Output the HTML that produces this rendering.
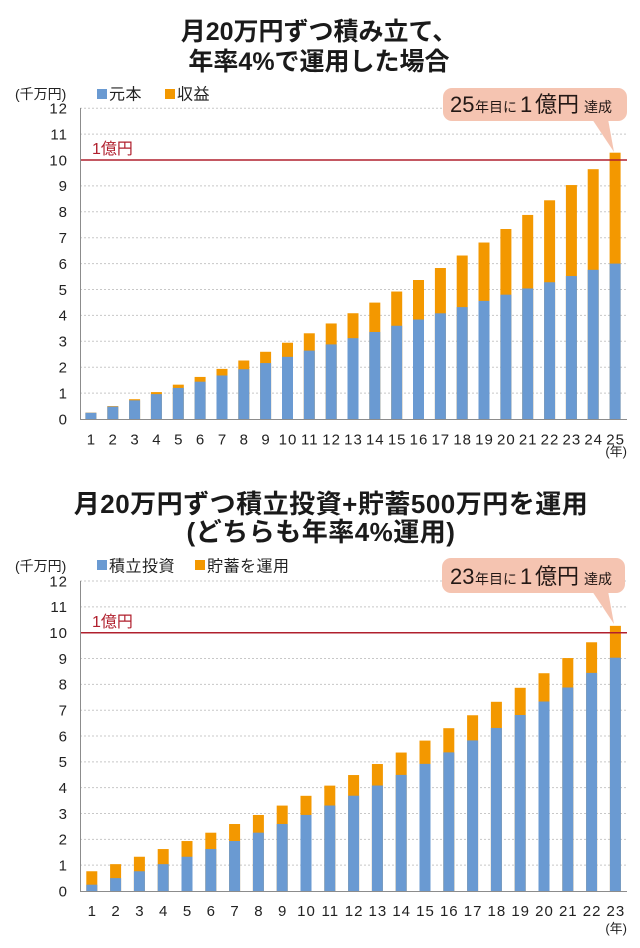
<!DOCTYPE html>
<html><head><meta charset="utf-8">
<style>
html,body{margin:0;padding:0;background:#fff;}
svg{display:block;}
text{font-family:"Liberation Sans","Noto Sans CJK JP",sans-serif;fill:#222;}
.t{font-weight:700;font-size:25px;fill:#1a1a1a;}
.t2{font-weight:700;font-size:26px;fill:#1a1a1a;letter-spacing:0.5px;}
.yl{font-size:15px;letter-spacing:1px;}
.xl{font-size:15px;letter-spacing:1px;}
.lg{font-size:16px;letter-spacing:0.5px;}
.un{font-size:14px;}
.red{font-size:16px;fill:#b0202e;}
.big{font-size:22px;fill:#231815;}
.sm{font-size:14px;fill:#231815;}
.grid{stroke:#c8c8c8;stroke-width:1;stroke-dasharray:2,2;}
.ax{stroke:#8c8c8c;stroke-width:1;}
.o{fill:#f39800;}
.b{fill:#6a9ad2;}
</style></head>
<body>
<svg width="640" height="948" viewBox="0 0 640 948" xmlns="http://www.w3.org/2000/svg">
<!-- ================= TOP CHART ================= -->
<text class="t" x="319" y="40" text-anchor="middle">月20万円ずつ積み立て、</text>
<text class="t" x="319" y="70" text-anchor="middle">年率4%で運用した場合</text>

<text class="un" x="15" y="99">(千万円)</text>
<rect x="97" y="89" width="10" height="10" class="b"/>
<text class="lg" x="109" y="99.5">元本</text>
<rect x="165" y="89" width="10" height="10" class="o"/>
<text class="lg" x="177" y="99.5">収益</text>

<g class="grid">
<line x1="80" x2="627" y1="393.1" y2="393.1"/>
<line x1="80" x2="627" y1="367.2" y2="367.2"/>
<line x1="80" x2="627" y1="341.3" y2="341.3"/>
<line x1="80" x2="627" y1="315.4" y2="315.4"/>
<line x1="80" x2="627" y1="289.5" y2="289.5"/>
<line x1="80" x2="627" y1="263.6" y2="263.6"/>
<line x1="80" x2="627" y1="237.7" y2="237.7"/>
<line x1="80" x2="627" y1="211.8" y2="211.8"/>
<line x1="80" x2="627" y1="185.9" y2="185.9"/>
<line x1="80" x2="627" y1="134.1" y2="134.1"/>
<line x1="80" x2="627" y1="108.2" y2="108.2"/>
</g>
<g class="yl" text-anchor="end">
<text x="68" y="424.3">0</text>
<text x="68" y="398.4">1</text>
<text x="68" y="372.5">2</text>
<text x="68" y="346.6">3</text>
<text x="68" y="320.7">4</text>
<text x="68" y="294.8">5</text>
<text x="68" y="268.9">6</text>
<text x="68" y="243.0">7</text>
<text x="68" y="217.1">8</text>
<text x="68" y="191.2">9</text>
<text x="68" y="165.3">10</text>
<text x="68" y="139.4">11</text>
<text x="68" y="113.5">12</text>
</g>
<g>
<rect class="o" x="85.4" y="412.67" width="11" height="6.33"/><rect class="b" x="85.4" y="412.78" width="11" height="6.22"/>
<rect class="o" x="107.3" y="406.08" width="11" height="12.92"/><rect class="b" x="107.3" y="406.57" width="11" height="12.43"/>
<rect class="o" x="129.1" y="399.22" width="11" height="19.78"/><rect class="b" x="129.1" y="400.35" width="11" height="18.65"/>
<rect class="o" x="150.9" y="392.09" width="11" height="26.91"/><rect class="b" x="150.9" y="394.14" width="11" height="24.86"/>
<rect class="o" x="172.8" y="384.66" width="11" height="34.34"/><rect class="b" x="172.8" y="387.92" width="11" height="31.08"/>
<rect class="o" x="194.6" y="376.93" width="11" height="42.07"/><rect class="b" x="194.6" y="381.70" width="11" height="37.30"/>
<rect class="o" x="216.5" y="368.88" width="11" height="50.12"/><rect class="b" x="216.5" y="375.49" width="11" height="43.51"/>
<rect class="o" x="238.3" y="360.51" width="11" height="58.49"/><rect class="b" x="238.3" y="369.27" width="11" height="49.73"/>
<rect class="o" x="260.1" y="351.79" width="11" height="67.21"/><rect class="b" x="260.1" y="363.06" width="11" height="55.94"/>
<rect class="o" x="282.0" y="342.72" width="11" height="76.28"/><rect class="b" x="282.0" y="356.84" width="11" height="62.16"/>
<rect class="o" x="303.8" y="333.29" width="11" height="85.71"/><rect class="b" x="303.8" y="350.62" width="11" height="68.38"/>
<rect class="o" x="325.7" y="323.46" width="11" height="95.54"/><rect class="b" x="325.7" y="344.41" width="11" height="74.59"/>
<rect class="o" x="347.5" y="313.24" width="11" height="105.76"/><rect class="b" x="347.5" y="338.19" width="11" height="80.81"/>
<rect class="o" x="369.3" y="302.60" width="11" height="116.40"/><rect class="b" x="369.3" y="331.98" width="11" height="87.02"/>
<rect class="o" x="391.2" y="291.53" width="11" height="127.47"/><rect class="b" x="391.2" y="325.76" width="11" height="93.24"/>
<rect class="o" x="413.0" y="280.00" width="11" height="139.00"/><rect class="b" x="413.0" y="319.54" width="11" height="99.46"/>
<rect class="o" x="434.9" y="268.01" width="11" height="150.99"/><rect class="b" x="434.9" y="313.33" width="11" height="105.67"/>
<rect class="o" x="456.7" y="255.52" width="11" height="163.48"/><rect class="b" x="456.7" y="307.11" width="11" height="111.89"/>
<rect class="o" x="478.5" y="242.53" width="11" height="176.47"/><rect class="b" x="478.5" y="300.90" width="11" height="118.10"/>
<rect class="o" x="500.4" y="229.01" width="11" height="189.99"/><rect class="b" x="500.4" y="294.68" width="11" height="124.32"/>
<rect class="o" x="522.2" y="214.94" width="11" height="204.06"/><rect class="b" x="522.2" y="288.46" width="11" height="130.54"/>
<rect class="o" x="544.1" y="200.29" width="11" height="218.71"/><rect class="b" x="544.1" y="282.25" width="11" height="136.75"/>
<rect class="o" x="565.9" y="185.05" width="11" height="233.95"/><rect class="b" x="565.9" y="276.03" width="11" height="142.97"/>
<rect class="o" x="587.7" y="169.19" width="11" height="249.81"/><rect class="b" x="587.7" y="269.82" width="11" height="149.18"/>
<rect class="o" x="609.6" y="152.68" width="11" height="266.32"/><rect class="b" x="609.6" y="263.60" width="11" height="155.40"/>
</g>
<line x1="80" x2="627" y1="160" y2="160" stroke="#b0202e" stroke-width="1.5"/>
<text class="red" x="92" y="154">1億円</text>
<line class="ax" x1="80.5" x2="80.5" y1="108" y2="419"/>
<line class="ax" x1="80" x2="627" y1="419.5" y2="419.5"/>
<g class="xl" text-anchor="middle">
<text x="91.4" y="444.5">1</text><text x="113.2" y="444.5">2</text><text x="135.1" y="444.5">3</text>
<text x="156.9" y="444.5">4</text><text x="178.8" y="444.5">5</text><text x="200.6" y="444.5">6</text>
<text x="222.5" y="444.5">7</text><text x="244.3" y="444.5">8</text><text x="266.1" y="444.5">9</text>
<text x="288.0" y="444.5">10</text><text x="309.8" y="444.5">11</text><text x="331.6" y="444.5">12</text>
<text x="353.5" y="444.5">13</text><text x="375.3" y="444.5">14</text><text x="397.2" y="444.5">15</text>
<text x="419.0" y="444.5">16</text><text x="440.8" y="444.5">17</text><text x="462.7" y="444.5">18</text>
<text x="484.5" y="444.5">19</text><text x="506.4" y="444.5">20</text><text x="528.2" y="444.5">21</text>
<text x="550.0" y="444.5">22</text><text x="571.9" y="444.5">23</text><text x="593.7" y="444.5">24</text>
<text x="615.6" y="444.5">25</text>
</g>
<text class="un" x="627" y="456" text-anchor="end" style="font-size:13px">(年)</text>
<rect x="443" y="88" width="184" height="33" rx="9" ry="9" fill="#f5c4b1"/>
<polygon points="592,119 608,119 614,152" fill="#f5c4b1"/>
<text y="112"><tspan class="big" x="450">25</tspan><tspan class="sm" x="475">年目に</tspan><tspan class="big" x="520">1</tspan><tspan class="big" x="535">億円</tspan><tspan class="sm" x="584">達成</tspan></text>

<!-- ================= BOTTOM CHART ================= -->
<text class="t2" x="331" y="513" text-anchor="middle">月20万円ずつ積立投資+貯蓄500万円を運用</text>
<text class="t2" x="321" y="541" text-anchor="middle">(どちらも年率4%運用)</text>

<text class="un" x="15" y="571">(千万円)</text>
<rect x="97" y="560" width="10" height="10" class="b"/>
<text class="lg" x="109" y="571.5">積立投資</text>
<rect x="195" y="560" width="10" height="10" class="o"/>
<text class="lg" x="207" y="571.5">貯蓄を運用</text>

<g class="grid">
<line x1="80" x2="627" y1="865.17" y2="865.17"/>
<line x1="80" x2="627" y1="839.34" y2="839.34"/>
<line x1="80" x2="627" y1="813.51" y2="813.51"/>
<line x1="80" x2="627" y1="787.68" y2="787.68"/>
<line x1="80" x2="627" y1="761.85" y2="761.85"/>
<line x1="80" x2="627" y1="736.02" y2="736.02"/>
<line x1="80" x2="627" y1="710.19" y2="710.19"/>
<line x1="80" x2="627" y1="684.36" y2="684.36"/>
<line x1="80" x2="627" y1="658.53" y2="658.53"/>
<line x1="80" x2="627" y1="606.87" y2="606.87"/>
<line x1="80" x2="627" y1="581.04" y2="581.04"/>
</g>
<g class="yl" text-anchor="end">
<text x="68" y="896.3">0</text>
<text x="68" y="870.5">1</text>
<text x="68" y="844.6">2</text>
<text x="68" y="818.8">3</text>
<text x="68" y="793.0">4</text>
<text x="68" y="767.2">5</text>
<text x="68" y="741.3">6</text>
<text x="68" y="715.5">7</text>
<text x="68" y="689.7">8</text>
<text x="68" y="663.8">9</text>
<text x="68" y="638.0">10</text>
<text x="68" y="612.2">11</text>
<text x="68" y="586.3">12</text>
</g>
<g>
<rect class="o" x="86.3" y="871.25" width="11" height="19.75"/><rect class="b" x="86.3" y="884.69" width="11" height="6.31"/>
<rect class="o" x="110.1" y="864.15" width="11" height="26.85"/><rect class="b" x="110.1" y="878.11" width="11" height="12.89"/>
<rect class="o" x="133.9" y="856.75" width="11" height="34.25"/><rect class="b" x="133.9" y="871.27" width="11" height="19.73"/>
<rect class="o" x="157.7" y="849.05" width="11" height="41.95"/><rect class="b" x="157.7" y="864.16" width="11" height="26.84"/>
<rect class="o" x="181.5" y="841.04" width="11" height="49.96"/><rect class="b" x="181.5" y="856.75" width="11" height="34.25"/>
<rect class="o" x="205.3" y="832.70" width="11" height="58.30"/><rect class="b" x="205.3" y="849.04" width="11" height="41.96"/>
<rect class="o" x="229.1" y="824.02" width="11" height="66.98"/><rect class="b" x="229.1" y="841.02" width="11" height="49.98"/>
<rect class="o" x="252.9" y="814.99" width="11" height="76.01"/><rect class="b" x="252.9" y="832.67" width="11" height="58.33"/>
<rect class="o" x="276.7" y="805.59" width="11" height="85.41"/><rect class="b" x="276.7" y="823.98" width="11" height="67.02"/>
<rect class="o" x="300.5" y="795.81" width="11" height="95.19"/><rect class="b" x="300.5" y="814.93" width="11" height="76.07"/>
<rect class="o" x="324.3" y="785.63" width="11" height="105.37"/><rect class="b" x="324.3" y="805.52" width="11" height="85.48"/>
<rect class="o" x="348.1" y="775.04" width="11" height="115.96"/><rect class="b" x="348.1" y="795.72" width="11" height="95.28"/>
<rect class="o" x="371.9" y="764.02" width="11" height="126.98"/><rect class="b" x="371.9" y="785.52" width="11" height="105.48"/>
<rect class="o" x="395.7" y="752.55" width="11" height="138.45"/><rect class="b" x="395.7" y="774.91" width="11" height="116.09"/>
<rect class="o" x="419.5" y="740.61" width="11" height="150.39"/><rect class="b" x="419.5" y="763.87" width="11" height="127.13"/>
<rect class="o" x="443.3" y="728.19" width="11" height="162.81"/><rect class="b" x="443.3" y="752.38" width="11" height="138.62"/>
<rect class="o" x="467.1" y="715.26" width="11" height="175.74"/><rect class="b" x="467.1" y="740.41" width="11" height="150.59"/>
<rect class="o" x="490.9" y="701.80" width="11" height="189.20"/><rect class="b" x="490.9" y="727.96" width="11" height="163.04"/>
<rect class="o" x="514.7" y="687.80" width="11" height="203.20"/><rect class="b" x="514.7" y="715.01" width="11" height="175.99"/>
<rect class="o" x="538.5" y="673.23" width="11" height="217.77"/><rect class="b" x="538.5" y="701.52" width="11" height="189.48"/>
<rect class="o" x="562.3" y="658.06" width="11" height="232.94"/><rect class="b" x="562.3" y="687.49" width="11" height="203.51"/>
<rect class="o" x="586.1" y="642.28" width="11" height="248.72"/><rect class="b" x="586.1" y="672.89" width="11" height="218.11"/>
<rect class="o" x="609.9" y="625.85" width="11" height="265.15"/><rect class="b" x="609.9" y="657.68" width="11" height="233.32"/>
</g>
<line x1="80" x2="627" y1="632.7" y2="632.7" stroke="#b0202e" stroke-width="1.5"/>
<text class="red" x="92" y="627">1億円</text>
<line class="ax" x1="80.5" x2="80.5" y1="581" y2="891"/>
<line class="ax" x1="80" x2="627" y1="891.5" y2="891.5"/>
<g class="xl" text-anchor="middle">
<text x="92.3" y="916">1</text><text x="116.1" y="916">2</text><text x="139.9" y="916">3</text>
<text x="163.7" y="916">4</text><text x="187.5" y="916">5</text><text x="211.3" y="916">6</text>
<text x="235.1" y="916">7</text><text x="258.9" y="916">8</text><text x="282.7" y="916">9</text>
<text x="306.5" y="916">10</text><text x="330.3" y="916">11</text><text x="354.1" y="916">12</text>
<text x="377.9" y="916">13</text><text x="401.7" y="916">14</text><text x="425.5" y="916">15</text>
<text x="449.3" y="916">16</text><text x="473.1" y="916">17</text><text x="496.9" y="916">18</text>
<text x="520.7" y="916">19</text><text x="544.5" y="916">20</text><text x="568.3" y="916">21</text>
<text x="592.1" y="916">22</text><text x="615.9" y="916">23</text>
</g>
<text class="un" x="627" y="933" text-anchor="end" style="font-size:13px">(年)</text>
<rect x="442" y="558" width="183" height="35" rx="9" ry="9" fill="#f5c4b1"/>
<polygon points="592,591 608,591 614,624" fill="#f5c4b1"/>
<text y="584"><tspan class="big" x="450">23</tspan><tspan class="sm" x="475">年目に</tspan><tspan class="big" x="520">1</tspan><tspan class="big" x="535">億円</tspan><tspan class="sm" x="584">達成</tspan></text>
</svg>
</body></html>
